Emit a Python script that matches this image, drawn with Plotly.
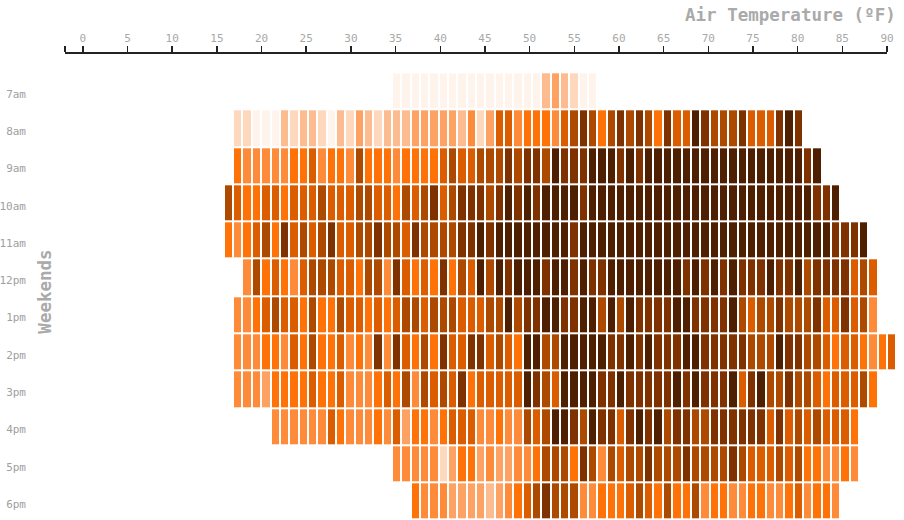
import plotly.graph_objects as go

# ---------------- data ----------------
hours = ["7am", "8am", "9am", "10am", "11am", "12pm", "1pm", "2pm", "3pm", "4pm", "5pm", "6pm"]
# first temperature bin of each hour row
row_starts = [35, 18, 18, 17, 17, 19, 18, 18, 18, 22, 35, 37]

# frequency level (0 = rare ... 9 = most frequent) per temperature bin
lv_7am = [0, 0, 0, 0, 0, 0, 0, 0, 0, 0, 0, 0, 0, 0, 0, 0, 2, 3, 2, 1, 0, 0]
lv_8am = [1, 1, 0, 0, 0, 2, 1, 2, 2, 1, 0, 2, 1, 3, 2, 1, 2, 2, 2, 3, 3, 3, 3, 3, 2, 4, 1, 3, 6, 6, 4, 5, 5, 5, 4,
          6, 7, 8, 7, 5, 7, 8, 7, 8, 7, 5, 8, 6, 6, 9, 8, 7, 7, 7, 8, 6, 6, 6, 8, 9, 8]
lv_9am = [5, 4, 4, 4, 4, 4, 5, 5, 6, 4, 5, 5, 4, 7, 5, 5, 5, 4, 5, 5, 5, 5, 6, 7, 6, 6, 7, 7, 7, 8, 7, 8, 8, 7, 9,
          8, 8, 8, 9, 9, 9, 8, 9, 8, 9, 9, 9, 9, 9, 9, 9, 9, 9, 9, 9, 9, 9, 9, 9, 9, 9, 8, 9]
lv_10am = [7, 6, 5, 5, 6, 6, 5, 6, 6, 6, 7, 6, 6, 6, 7, 7, 6, 6, 5, 7, 6, 7, 8, 6, 7, 8, 8, 8, 7, 8, 9, 8, 9, 8, 9, 9,
           9, 9, 8, 9, 9, 9, 9, 9, 9, 9, 9, 9, 9, 9, 9, 9, 9, 9, 9, 9, 9, 9, 9, 9, 9, 9, 9, 8, 8, 9]
lv_11am = [5, 4, 5, 6, 7, 5, 8, 6, 7, 6, 7, 8, 6, 6, 7, 7, 8, 7, 7, 6, 8, 7, 7, 7, 7, 8, 8, 9, 8, 9, 9, 9, 9, 9, 9, 9,
           9, 8, 9, 9, 9, 9, 9, 9, 9, 9, 9, 9, 9, 9, 9, 9, 9, 9, 9, 9, 9, 9, 9, 9, 9, 9, 9, 9, 9, 8, 8, 8, 9]
lv_12pm = [4, 7, 5, 6, 5, 4, 6, 7, 7, 7, 6, 6, 5, 7, 7, 4, 8, 6, 5, 6, 5, 8, 5, 7, 6, 9, 7, 9, 8, 9, 9, 9, 8, 9,
           9, 8, 9, 8, 8, 9, 9, 9, 9, 9, 9, 9, 9, 8, 9, 8, 9, 8, 9, 8, 8, 8, 9, 8, 8, 9, 7, 8, 8, 8, 8, 6, 7, 6]
lv_1pm = [4, 4, 5, 6, 7, 6, 6, 5, 7, 5, 5, 7, 6, 6, 5, 6, 5, 6, 7, 7, 6, 7, 7, 7, 6, 6, 6, 7, 7, 9, 7, 8, 8, 9, 9,
          8, 8, 9, 9, 7, 9, 7, 9, 8, 8, 8, 8, 9, 9, 8, 8, 8, 8, 9, 7, 6, 7, 7, 8, 7, 7, 7, 8, 6, 6, 8, 6, 7, 4]
lv_2pm = [4, 4, 4, 5, 5, 4, 6, 5, 7, 5, 5, 6, 4, 5, 4, 8, 4, 8, 6, 5, 7, 5, 8, 6, 6, 8, 8, 6, 7, 6, 5, 9, 9, 7, 7,
          9, 9, 9, 9, 9, 8, 8, 9, 8, 9, 8, 8, 8, 9, 9, 8, 8, 8, 8, 8, 7, 7, 7, 9, 8, 8, 7, 7, 6, 5, 6, 6, 5, 4, 5, 6]
lv_3pm = [4, 4, 4, 3, 5, 5, 5, 5, 6, 5, 5, 6, 4, 4, 4, 5, 6, 5, 7, 4, 7, 6, 7, 6, 8, 5, 6, 6, 6, 6, 6, 9, 8, 7, 6,
          9, 9, 9, 9, 8, 8, 9, 8, 8, 8, 8, 8, 9, 8, 9, 8, 8, 8, 9, 6, 8, 9, 7, 7, 8, 7, 7, 6, 5, 6, 6, 6, 7, 5]
lv_4pm = [4, 4, 4, 4, 4, 4, 6, 5, 4, 4, 4, 5, 4, 6, 3, 5, 5, 4, 5, 6, 6, 6, 4, 4, 5, 4, 4, 7, 6, 7, 9,
          9, 8, 7, 9, 8, 8, 6, 8, 9, 8, 9, 7, 8, 8, 7, 7, 8, 8, 8, 8, 8, 8, 6, 8, 6, 7, 6, 7, 6, 6, 6, 5]
lv_5pm = [4, 4, 4, 4, 4, 1, 3, 5, 5, 3, 4, 3, 3, 4, 4, 5, 7, 7,
          7, 5, 8, 7, 4, 7, 6, 7, 7, 8, 7, 7, 7, 8, 7, 7, 7, 7, 8, 7, 6, 6, 6, 7, 6, 7, 5, 5, 4, 4, 5, 4]
lv_6pm = [5, 4, 4, 4, 3, 3, 3, 3, 2, 3, 4, 5, 6, 7, 8, 7,
          7, 7, 4, 4, 5, 5, 5, 6, 7, 6, 5, 7, 5, 5, 7, 4, 5, 5, 4, 4, 5, 5, 4, 4, 5, 6, 4, 5, 5, 4]

rows = [lv_7am, lv_8am, lv_9am, lv_10am, lv_11am, lv_12pm, lv_1pm, lv_2pm, lv_3pm, lv_4pm, lv_5pm, lv_6pm]

temp_bins = list(range(89))
x_ticks = [0, 5, 10, 15, 20, 25, 30, 35, 40, 45, 50, 55, 60, 65, 70, 75, 80, 85, 90]

level_colors = ["#fff4eb", "#fed8bd", "#fdbb90", "#fea264", "#fd8b3a",
                "#ff7208", "#dc5d00", "#ae4a00", "#7f3200", "#4e1f00"]

# ---------------- build grid ----------------
z = []
for start, vals in zip(row_starts, rows):
    line = [None] * len(temp_bins)
    for k, v in enumerate(vals):
        line[start + k] = v
    z.append(line)

colorscale = [[i / (len(level_colors) - 1), c] for i, c in enumerate(level_colors)]

MONO = "DejaVu Sans Mono, Consolas, monospace"

fig = go.Figure()
fig.add_trace(go.Scatter(x=[], y=[], xaxis="x", yaxis="y", showlegend=False))
fig.add_trace(go.Heatmap(
    x=temp_bins, y=list(range(len(hours))), z=z,
    xaxis="x2", yaxis="y",
    colorscale=colorscale, zmin=0, zmax=9, showscale=False,
    xgap=2, ygap=2, hoverinfo="skip",
))

W, H = 904, 520
ML, MR, MT, MB = 65, 7, 54, 0
plot_w = W - ML - MR
axis_px = 822.0
cell_px = axis_px / 88.0
row_px = 37.29
first_row_center = 90.9

fig.update_layout(
    width=W, height=H,
    margin=dict(l=ML, r=MR, t=MT, b=MB, pad=0, autoexpand=False),
    paper_bgcolor="white", plot_bgcolor="white",
    showlegend=False,
    xaxis=dict(
        domain=[0, axis_px / plot_w], range=[-2, 90], anchor="y", side="top",
        automargin=False,
        tickmode="array", tickvals=[-2] + x_ticks, ticktext=[""] + [str(v) for v in x_ticks],
        ticks="outside", ticklen=6, tickwidth=1.5, tickcolor="#222",
        showline=True, linecolor="#222", linewidth=2,
        showgrid=False, zeroline=False,
        tickfont=dict(family=MONO, size=11, color="#a8a8a8"),
    ),
    xaxis2=dict(
        domain=[0, 1], range=[-0.5, -0.5 + plot_w / cell_px], anchor="y",
        automargin=False,
        visible=False, showgrid=False, zeroline=False,
    ),
    yaxis=dict(
        range=[(H - MB - first_row_center) / row_px, -(first_row_center - MT) / row_px],
        automargin=False,
        tickmode="array", tickvals=[i + 0.08 for i in range(len(hours))], ticktext=hours,
        ticks="", showline=False, showgrid=False, zeroline=False,
        ticklabelstandoff=38,
        tickfont=dict(family=MONO, size=11, color="#a0a0a0"),
    ),
    annotations=[
        dict(text="<b>Air Temperature (ºF)</b>", xref="paper", yref="paper", x=1, y=1,
             xanchor="right", yanchor="middle", xshift=1, yshift=39, showarrow=False,
             font=dict(family=MONO, size=17.5, color="#aaaaaa")),
        dict(text="<b>Weekends</b>", xref="paper", yref="paper", x=0, y=0.49,
             xanchor="center", yanchor="middle", xshift=-20, textangle=-90, showarrow=False,
             font=dict(family=MONO, size=17.5, color="#aaaaaa")),
    ],
)

# remove the default page margin so the 904x520 figure fills the window exactly
fig.write_html(
    "out.html",
    config={"displayModeBar": False, "staticPlot": True},
    post_script="document.body.style.margin='0';document.body.style.overflow='hidden';",
)
